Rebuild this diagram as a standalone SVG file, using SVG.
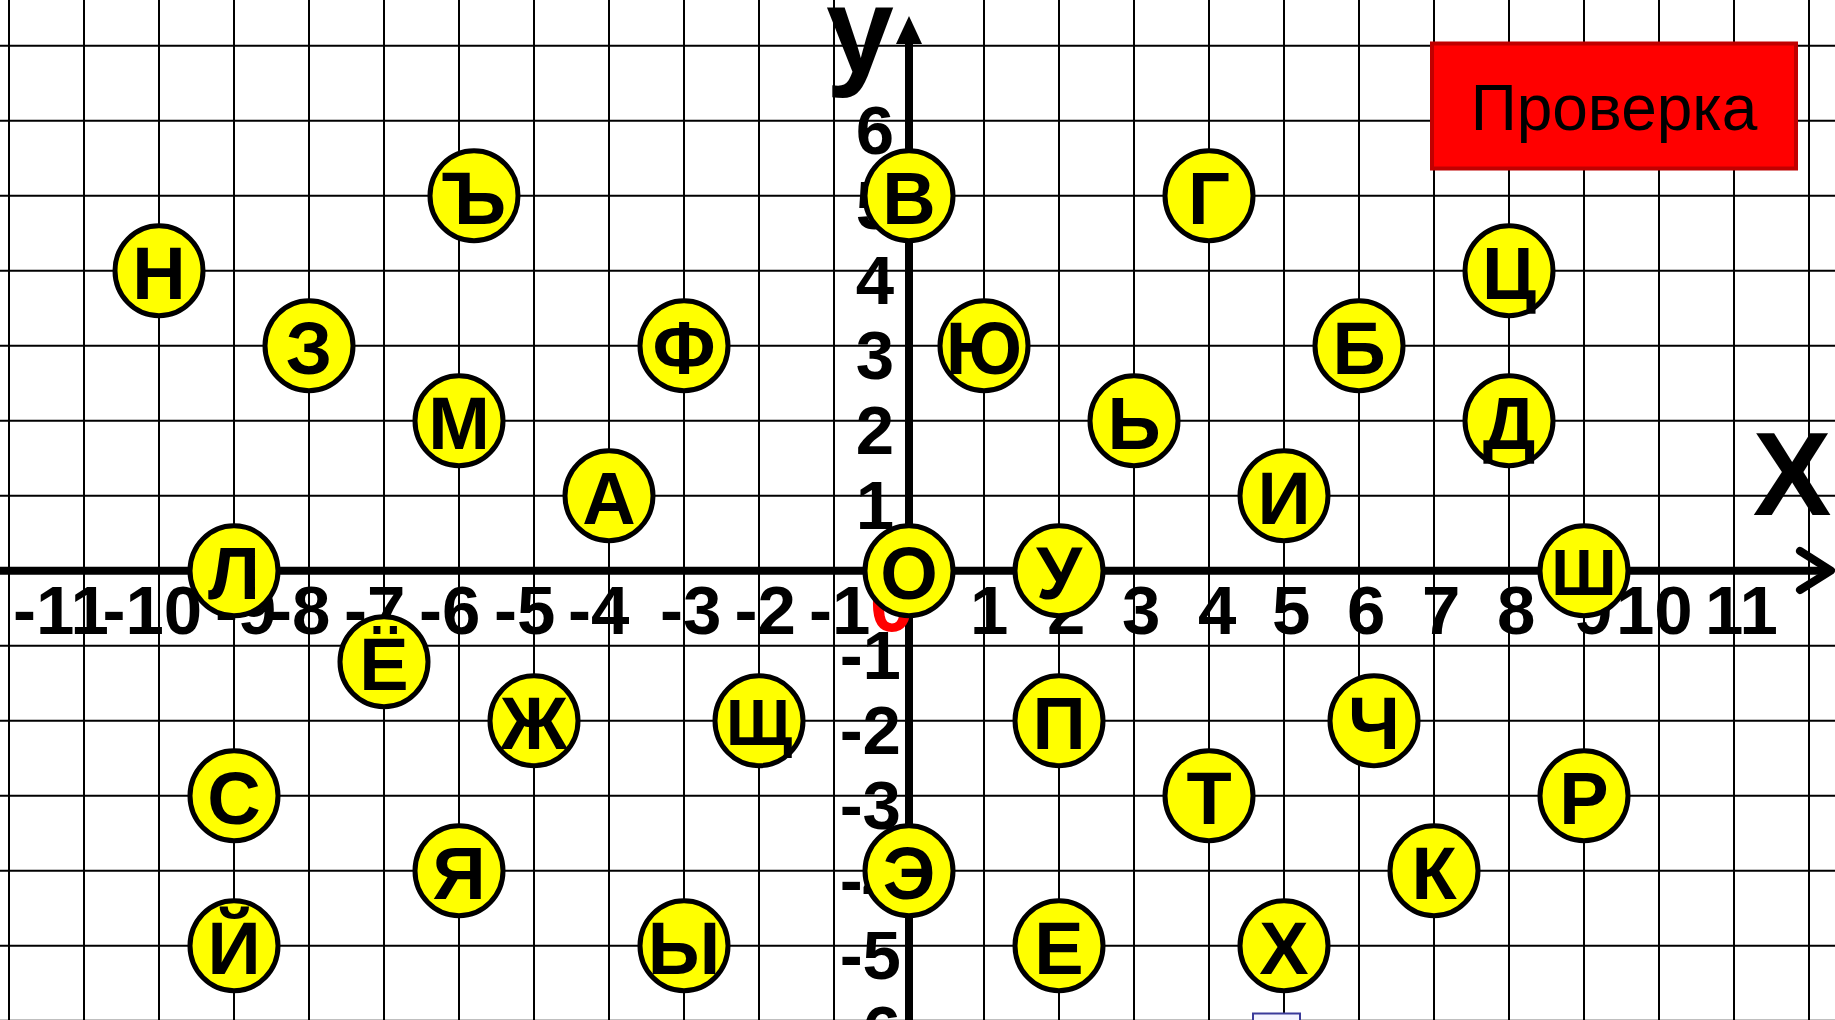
<svg xmlns="http://www.w3.org/2000/svg" width="1835" height="1020" viewBox="0 0 1835 1020">
<style>
.grid{stroke:#000;stroke-width:2;fill:none}
.axis{stroke:#000;stroke-width:8;fill:none}
.lbl{font-family:"Liberation Sans",Arial,sans-serif;font-weight:bold;font-size:69px;fill:#000}
.node ellipse{fill:#FFFF00;stroke:#000;stroke-width:5}
.node text{font-family:"Liberation Sans",Arial,sans-serif;font-weight:bold;font-size:74px;fill:#000;text-anchor:middle}
.node text.sm{font-size:65px}
</style>
<rect x="0" y="0" width="1835" height="1020" fill="#FFFFFF"/>
<g id="grid">
<path class="grid" d="M9 0V1020M84 0V1020M159 0V1020M234 0V1020M309 0V1020M384 0V1020M459 0V1020M534 0V1020M609 0V1020M684 0V1020M759 0V1020M834 0V1020M984 0V1020M1059 0V1020M1134 0V1020M1209 0V1020M1284 0V1020M1359 0V1020M1434 0V1020M1509 0V1020M1584 0V1020M1659 0V1020M1734 0V1020M1809 0V1020"/>
<path class="grid" d="M0 45.7H1835M0 120.7H1835M0 195.7H1835M0 270.7H1835M0 345.7H1835M0 420.7H1835M0 495.7H1835M0 645.7H1835M0 720.7H1835M0 795.7H1835M0 870.7H1835M0 945.7H1835M0 1020.7H1835"/>
</g>
<g id="axes">
<line class="axis" x1="0" y1="570.7" x2="1828" y2="570.7"/>
<polyline class="axis" points="1800,551 1831,570.7 1800,590" stroke-linecap="round" stroke-linejoin="round"/>
<line class="axis" x1="909" y1="1020" x2="909" y2="42"/>
<polygon points="909,16 896,44 922,44" fill="#000"/>
<text x="860" y="73" text-anchor="middle" font-family="'Liberation Sans',Arial,sans-serif" font-weight="bold" font-size="122">у</text>
<text x="1792" y="515" text-anchor="middle" font-family="'Liberation Sans',Arial,sans-serif" font-weight="bold" font-size="118">Х</text>
</g>
<g id="x-labels" class="lbl">
<text x="13" y="634">-11</text>
<text x="102.5" y="634">-10</text>
<text x="215" y="634">-9</text>
<text x="269" y="634">-8</text>
<text x="344" y="634">-7</text>
<text x="419" y="634">-6</text>
<text x="494" y="634">-5</text>
<text x="568" y="634">-4</text>
<text x="660" y="634">-3</text>
<text x="734.5" y="634">-2</text>
<text x="809" y="634">-1</text>
<text x="970" y="634">1</text>
<text x="1047" y="634">2</text>
<text x="1122" y="634">3</text>
<text x="1198" y="634">4</text>
<text x="1272" y="634">5</text>
<text x="1347" y="634">6</text>
<text x="1422" y="634">7</text>
<text x="1497" y="634">8</text>
<text x="1574" y="634">9</text>
<text x="1616" y="634">10</text>
<text x="1705" y="634">11</text>
</g>
<g id="y-labels" class="lbl">
<text x="894" y="154" text-anchor="end">6</text>
<text x="894" y="229" text-anchor="end">5</text>
<text x="894" y="304" text-anchor="end">4</text>
<text x="894" y="379" text-anchor="end">3</text>
<text x="894" y="454" text-anchor="end">2</text>
<text x="894" y="529" text-anchor="end">1</text>
<text x="901" y="679" text-anchor="end">-1</text>
<text x="901" y="754" text-anchor="end">-2</text>
<text x="901" y="829" text-anchor="end">-3</text>
<text x="901" y="904" text-anchor="end">-4</text>
<text x="901" y="979" text-anchor="end">-5</text>
<text x="901" y="1054" text-anchor="end">-6</text>
</g>
<text id="origin" x="892" y="631" text-anchor="middle" font-family="'Liberation Sans',Arial,sans-serif" font-weight="bold" font-size="80" fill="#FF0000">0</text>
<g id="button">
<rect x="1432" y="43.5" width="364" height="125" fill="#FF0000" stroke="#C00000" stroke-width="4"/>
<text x="1614" y="130" text-anchor="middle" font-family="'Liberation Sans',Arial,sans-serif" font-size="64" fill="#000">Проверка</text>
</g>
<rect id="small-box" x="1253" y="1013.5" width="47" height="20" fill="#F4F4FF" stroke="#3A3A9A" stroke-width="2"/>
<g id="nodes">
<g id="n-N" class="node" transform="translate(159,270.7)"><ellipse rx="44" ry="45"/><text y="28">Н</text></g>
<g id="n-TvZn" class="node" transform="translate(474,195.7)"><ellipse rx="44" ry="45"/><text y="28">Ъ</text></g>
<g id="n-Z" class="node" transform="translate(309,345.7)"><ellipse rx="44" ry="45"/><text y="28">З</text></g>
<g id="n-M" class="node" transform="translate(459,420.7)"><ellipse rx="44" ry="45"/><text y="28">М</text></g>
<g id="n-A" class="node" transform="translate(609,495.7)"><ellipse rx="44" ry="45"/><text y="28">А</text></g>
<g id="n-F" class="node" transform="translate(684,345.7)"><ellipse rx="44" ry="45"/><text y="28">Ф</text></g>
<g id="n-V" class="node" transform="translate(909,195.7)"><ellipse rx="44" ry="45"/><text y="28">В</text></g>
<g id="n-Yu" class="node" transform="translate(984,345.7)"><ellipse rx="44" ry="45"/><text y="28">Ю</text></g>
<g id="n-G" class="node" transform="translate(1209,195.7)"><ellipse rx="44" ry="45"/><text y="28">Г</text></g>
<g id="n-MyZn" class="node" transform="translate(1134,420.7)"><ellipse rx="44" ry="45"/><text y="28">Ь</text></g>
<g id="n-I" class="node" transform="translate(1284,495.7)"><ellipse rx="44" ry="45"/><text y="28">И</text></g>
<g id="n-B" class="node" transform="translate(1359,345.7)"><ellipse rx="44" ry="45"/><text y="28">Б</text></g>
<g id="n-Ts" class="node" transform="translate(1509,270.7)"><ellipse rx="44" ry="45"/><text y="28">Ц</text></g>
<g id="n-D" class="node" transform="translate(1509,420.7)"><ellipse rx="44" ry="45"/><text y="28">Д</text></g>
<g id="n-L" class="node" transform="translate(234,570.7)"><ellipse rx="44" ry="45"/><text y="28">Л</text></g>
<g id="n-O" class="node" transform="translate(909,570.7)"><ellipse rx="44" ry="45"/><text y="28">О</text></g>
<g id="n-U" class="node" transform="translate(1059,570.7)"><ellipse rx="44" ry="45"/><text y="28">У</text></g>
<g id="n-Sh" class="node" transform="translate(1584,570.7)"><ellipse rx="44" ry="45"/><text class="sm" y="24">Ш</text></g>
<g id="n-Yo" class="node" transform="translate(384,661.7)"><ellipse rx="44" ry="45"/><text y="28">Ё</text></g>
<g id="n-Zh" class="node" transform="translate(534,720.7)"><ellipse rx="44" ry="45"/><text y="28">Ж</text></g>
<g id="n-Shch" class="node" transform="translate(759,720.7)"><ellipse rx="44" ry="45"/><text class="sm" y="24">Щ</text></g>
<g id="n-P" class="node" transform="translate(1059,720.7)"><ellipse rx="44" ry="45"/><text y="28">П</text></g>
<g id="n-Ch" class="node" transform="translate(1374,720.7)"><ellipse rx="44" ry="45"/><text y="28">Ч</text></g>
<g id="n-S" class="node" transform="translate(234,795.7)"><ellipse rx="44" ry="45"/><text y="28">С</text></g>
<g id="n-T" class="node" transform="translate(1209,795.7)"><ellipse rx="44" ry="45"/><text y="28">Т</text></g>
<g id="n-R" class="node" transform="translate(1584,795.7)"><ellipse rx="44" ry="45"/><text y="28">Р</text></g>
<g id="n-Ya" class="node" transform="translate(459,870.7)"><ellipse rx="44" ry="45"/><text y="28">Я</text></g>
<g id="n-E" class="node" transform="translate(909,870.7)"><ellipse rx="44" ry="45"/><text y="28">Э</text></g>
<g id="n-K" class="node" transform="translate(1434,870.7)"><ellipse rx="44" ry="45"/><text y="28">К</text></g>
<g id="n-J" class="node" transform="translate(234,945.7)"><ellipse rx="44" ry="45"/><text y="28">Й</text></g>
<g id="n-Y" class="node" transform="translate(684,945.7)"><ellipse rx="44" ry="45"/><text y="28">Ы</text></g>
<g id="n-Ye" class="node" transform="translate(1059,945.7)"><ellipse rx="44" ry="45"/><text y="28">Е</text></g>
<g id="n-Kh" class="node" transform="translate(1284,945.7)"><ellipse rx="44" ry="45"/><text y="28">Х</text></g>
</g>
</svg>
